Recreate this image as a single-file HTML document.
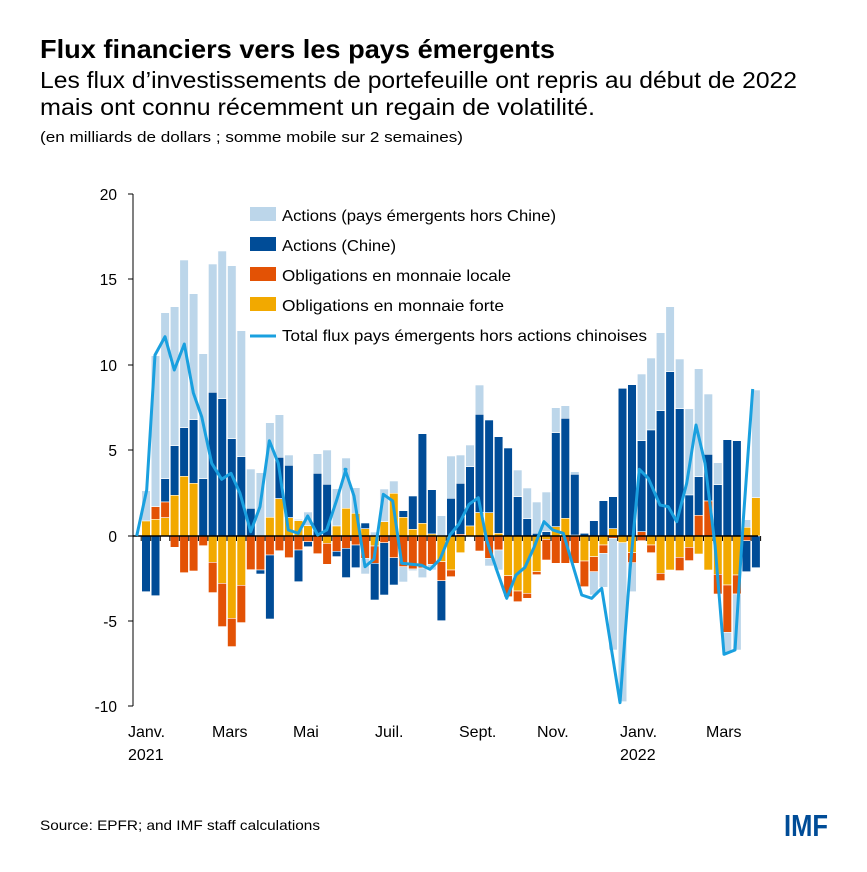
<!DOCTYPE html><html><head><meta charset="utf-8"><style>
body{margin:0;background:#fff;width:867px;height:867px;overflow:hidden;font-family:"Liberation Sans",sans-serif;}
</style></head><body>
<svg id="s" width="867" height="867" xmlns="http://www.w3.org/2000/svg" font-family="Liberation Sans, sans-serif">
<text x="40" y="58" font-size="26" font-weight="bold" fill="#000" textLength="515" lengthAdjust="spacingAndGlyphs">Flux financiers vers les pays émergents</text>
<text x="40" y="88" font-size="23" fill="#000" textLength="757" lengthAdjust="spacingAndGlyphs">Les flux d’investissements de portefeuille ont repris au début de 2022</text>
<text x="40" y="115" font-size="23" fill="#000" textLength="555" lengthAdjust="spacingAndGlyphs">mais ont connu récemment un regain de volatilité.</text>
<text x="40" y="142" font-size="15" fill="#000" textLength="423" lengthAdjust="spacingAndGlyphs">(en milliards de dollars ; somme mobile sur 2 semaines)</text>
<g font-size="15.5" text-anchor="end" fill="#000">
<text x="117" y="200">20</text><text x="117" y="285">15</text><text x="117" y="371">10</text><text x="117" y="456">5</text><text x="117" y="542">0</text><text x="117" y="627">-5</text><text x="117" y="712">-10</text>
</g>
<g font-size="16" fill="#000">
<text x="128" y="737">Janv.</text><text x="128" y="760">2021</text>
<text x="212" y="737">Mars</text><text x="293" y="737">Mai</text><text x="375" y="737">Juil.</text>
<text x="459" y="737">Sept.</text><text x="537" y="737">Nov.</text>
<text x="620" y="737">Janv.</text><text x="620" y="760">2022</text><text x="706" y="737">Mars</text>
</g>
<g id="bars"></g>
<g id="ax"></g>
<polyline id="ln" fill="none" stroke="#1aa0df" stroke-width="3" stroke-linejoin="round"/>
<g font-size="16" fill="#000">
<rect x="250" y="207" width="26" height="14" fill="#bcd6ea"/><text x="282" y="221" textLength="274" lengthAdjust="spacingAndGlyphs">Actions (pays émergents hors Chine)</text>
<rect x="250" y="237" width="26" height="14" fill="#004c97"/><text x="282" y="251" textLength="114" lengthAdjust="spacingAndGlyphs">Actions (Chine)</text>
<rect x="250" y="267" width="26" height="14" fill="#e35205"/><text x="282" y="281" textLength="229" lengthAdjust="spacingAndGlyphs">Obligations en monnaie locale</text>
<rect x="250" y="297" width="26" height="14" fill="#f2a900"/><text x="282" y="311" textLength="222" lengthAdjust="spacingAndGlyphs">Obligations en monnaie forte</text>
<line x1="250" y1="336" x2="276" y2="336" stroke="#1aa0df" stroke-width="3"/><text x="282" y="341" textLength="365" lengthAdjust="spacingAndGlyphs">Total flux pays émergents hors actions chinoises</text>
</g>
<text x="40" y="830" font-size="14" fill="#000" textLength="280" lengthAdjust="spacingAndGlyphs">Source: EPFR; and IMF staff calculations</text>
<text x="784" y="836" font-size="31" font-weight="bold" fill="#004c97" textLength="44" lengthAdjust="spacingAndGlyphs">IMF</text>
</svg>
<script>
var C={L:"#bcd6ea",D:"#004c97",O:"#e35205",Y:"#f2a900"};
var Z={1:[240],2:[370],3:[270]};
var B=[
[1,"L752,843 Y843,888 D888,1055"],
[1,"L347,800 O800,838 Y838,888 D888,1067"],
[1,"L218,716 D716,786 O786,833 Y833,888"],
[1,"L200,617 D617,766 Y766,888 O888,922"],
[1,"L60,563 D563,709 Y709,888 O888,998"],
[1,"L161,539 D539,730 Y730,888 O888,993"],
[1,"L341,716 D716,888 O888,917"],
[1,"L72,457 D457,888 Y888,967 O967,1058"],
[1,"L33,476 D476,888 Y888,1030 O1030,1160"],
[1,"L77,596 D596,888 Y888,1135 O1135,1220"],
[1,"L272,650 D650,888 Y888,1036 O1036,1148"],
[1,"L687,805 D805,888 O888,989"],
[1,"L698,888 O888,990 D990,1002"],
[1,"L548,832 Y832,888 O888,945 D945,1137"],
[1,"L524,652 D652,776 Y776,888 O888,932"],
[1,"L645,676 D676,833 Y833,888 O888,953"],
[1,"L838,842 Y842,888 O888,930 D930,1025"],
[1,"L816,857 Y857,888 O888,905 D905,920"],
[1,"L641,700 D700,888 O888,941"],
[1,"L630,733 D733,888 Y888,910 O910,973"],
[1,"L746,858 Y858,888 O888,934 D934,950"],
[2,"L264,415 Y415,498 O498,535 D535,623"],
[2,"L353,430 Y430,498 O498,525 D525,593"],
[2,"D459,476 Y476,498 O498,565 L565,612"],
[2,"L486,498 Y498,528 O528,580 D580,690"],
[2,"L357,455 Y455,498 O498,518 D518,675"],
[2,"L333,370 Y370,498 O498,563 D563,645"],
[2,"D422,442 Y442,498 O498,590 L590,636"],
[2,"D378,478 Y478,498 O498,597 L597,602"],
[2,"D191,460 Y460,498 O498,594 L594,623"],
[2,"D359,492 Y492,498 O498,583 L583,600"],
[2,"L437,498 Y498,575 O575,632 D632,752"],
[2,"L258,385 D385,498 Y498,600 O600,620"],
[2,"L255,340 D340,493 O493,498 Y498,548"],
[2,"L225,290 D290,468 Y468,498"],
[2,"L45,133 D133,428 Y428,498 O498,543"],
[2,"D150,428 Y428,498 O498,565 L565,588"],
[2,"D200,490 Y490,498 O498,540 L540,600"],
[2,"D234,498 Y498,617 O617,680"],
[2,"L300,380 D380,498 Y498,663 O663,695"],
[2,"L354,446 D446,498 Y498,670 O670,685"],
[2,"L396,490 D490,498 Y498,605 O605,614"],
[2,"L366,485 D485,498 Y498,508 O508,570"],
[3,"L413,488 D488,770 Y770,798 O798,880"],
[3,"L407,445 D445,745 Y745,798 O798,880"],
[3,"L605,613 D613,795 O798,880"],
[3,"D790,798 Y798,873 O873,950"],
[3,"D752,798 Y798,860 O860,905 L905,975"],
[3,"D692,798 Y798,825 O825,850 L850,952"],
[3,"D680,776 Y776,798 O798,805 L805,1140"],
[3,"D355,798 Y798,818 L818,1295"],
[3,"D344,798 Y798,848 O848,878 L878,965"],
[3,"L312,512 D512,785 O785,812"],
[3,"L264,480 D480,798 Y798,825 O825,848"],
[3,"L188,422 D422,798 Y798,910 O910,932"],
[3,"L110,305 D305,798 Y798,900"],
[3,"L267,416 D416,798 Y798,862 O862,902"],
[3,"L416,675 D675,798 Y798,832 O832,872"],
[3,"L296,620 D620,736 O736,798 Y798,852"],
[3,"L372,553 D553,693 O693,798 Y798,900"],
[3,"L578,644 D644,798 Y798,913 O913,972"],
[3,"D509,798 Y798,945 O945,1087 L1087,1150"],
[3,"D512,798 Y798,915 O915,972 L972,1140"],
[3,"L749,772 Y772,798 O798,812 D812,905"],
[3,"L360,683 Y683,798 D798,893"]];
var h="";
B.forEach(function(b,i){var x=141.7+9.53*i,o=Z[b[0]][0];
b[1].split(" ").forEach(function(s){var c=C[s[0]],p=s.slice(1).split(",");var y0=o+p[0]/3,y1=o+p[1]/3;
h+='<rect x="'+x.toFixed(1)+'" y="'+y0.toFixed(1)+'" width="8.6" height="'+(y1-y0).toFixed(1)+'" fill="'+c+'" stroke="#fff" stroke-width="0.6"/>';});});
document.getElementById("bars").innerHTML=h;
var a='<line x1="133" y1="194" x2="133" y2="706" stroke="#000" stroke-width="1"/>';
[194,279,365,450,536,621,706].forEach(function(y){a+='<line x1="128" y1="'+y+'" x2="133" y2="'+y+'" stroke="#000"/>';});
a+='<line x1="133" y1="536" x2="758" y2="536" stroke="#000" stroke-width="1.5"/>';
for(var i=0;i<=65;i++){var x=141.2+9.53*i;a+='<line x1="'+x.toFixed(1)+'" y1="536" x2="'+x.toFixed(1)+'" y2="541" stroke="#000"/>';}
document.getElementById("ax").innerHTML=a;
var P=[[1,[[20,888],[50,750],[75,345],[105,290],[133,390],[163,312],[190,458],[215,530],[245,670],[275,718],[303,700],[330,760],[362,875],[390,800],[418,602],[445,670],[475,870],[505,880],[533,828],[563,885],[590,870],[620,780],[648,688]]],
[2,[[15,298],[42,378],[75,590],[102,567],[130,373],[158,393],[185,580],[245,586],[270,598],[300,568],[330,495],[357,462],[387,403],[415,383],[440,510],[470,600],[500,685],[528,615],[555,592],[583,530],[612,455],[638,480]]],
[3,[[40,790],[95,975],[125,985],[155,955],[210,1298],[240,900],[268,598],[295,625],[330,705],[355,710],[380,755],[410,640],[438,465],[465,580],[495,825],[522,1153],[555,1140],[580,750],[608,357]]]];
var ox={1:130,2:340,3:550},pts=[];
P.forEach(function(q){q[1].forEach(function(p){pts.push((ox[q[0]]+p[0]/3).toFixed(1)+","+(Z[q[0]][0]+p[1]/3).toFixed(1));});});
document.getElementById("ln").setAttribute("points",pts.join(" "));
</script>
</body></html>
